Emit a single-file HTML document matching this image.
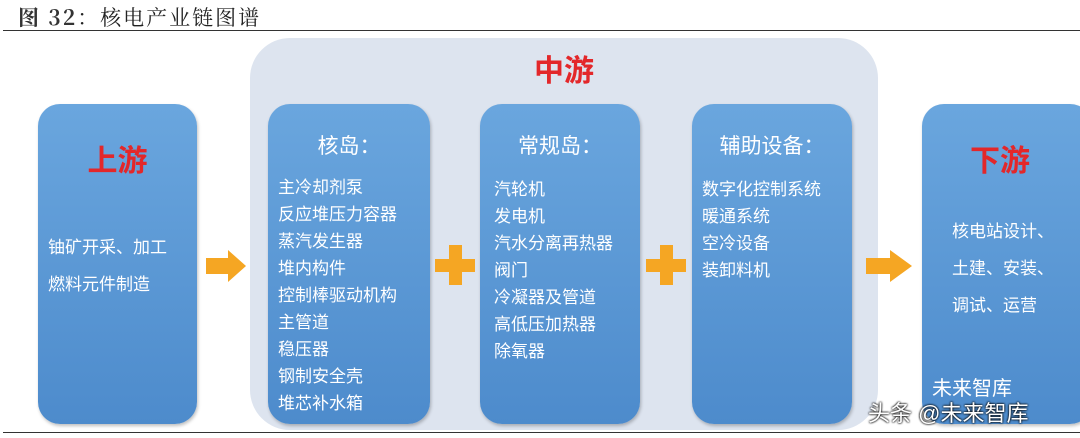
<!DOCTYPE html>
<html><head><meta charset="utf-8"><style>
body{margin:0;width:1080px;height:438px;background:#fff;position:relative;overflow:hidden;font-family:"Liberation Sans","Noto Sans CJK SC",sans-serif}
.a{position:absolute}
.box{position:absolute;border-radius:22px;background:linear-gradient(#6aa6de,#4d8bcc);color:#fff;box-shadow:1px 2px 3px rgba(0,0,0,.25)}
.t{position:absolute;color:#fff;font-size:17px;line-height:27px}
.h{position:absolute;color:#fff;font-size:21px;width:100%;text-align:center}
.red{color:#e3272a;font-size:30px;font-weight:bold;position:absolute;width:100%;text-align:center}
</style></head><body>
<div class="a" style="left:18px;top:2px;font-size:21px;color:#222;font-family:'Noto Serif CJK SC','Liberation Serif',serif;letter-spacing:2px"><span style="font-weight:bold;color:#333">图 32</span>：核电产业链图谱</div>
<div class="a" style="left:3px;top:30px;width:1077px;height:1px;background:#333"></div>
<div class="a" style="left:3px;top:432px;width:1077px;height:1px;background:#333"></div>
<div class="a" style="left:250px;top:38px;width:628px;height:392px;border-radius:40px;background:#dde4ef"></div>
<div class="red" style="left:250px;width:628px;top:46px;">中游</div>

<div class="box" style="left:38px;top:104px;width:159px;height:320px">
<div class="red" style="top:32px">上游</div>
<div class="t" style="left:10px;top:125px;line-height:37px">铀矿开采、加工<br>燃料元件制造</div></div>

<div class="box" style="left:268px;top:104px;width:162px;height:320px">
<div class="h" style="top:26px">核岛：</div>
<div class="t" style="left:10px;top:70px">主冷却剂泵<br>反应堆压力容器<br>蒸汽发生器<br>堆内构件<br>控制棒驱动机构<br>主管道<br>稳压器<br>钢制安全壳<br>堆芯补水箱</div></div>

<div class="box" style="left:480px;top:104px;width:160px;height:320px">
<div class="h" style="top:26px">常规岛：</div>
<div class="t" style="left:14px;top:72px">汽轮机<br>发电机<br>汽水分离再热器<br>阀门<br>冷凝器及管道<br>高低压加热器<br>除氧器</div></div>

<div class="box" style="left:692px;top:104px;width:160px;height:320px">
<div class="h" style="top:26px">辅助设备：</div>
<div class="t" style="left:10px;top:72px">数字化控制系统<br>暖通系统<br>空冷设备<br>装卸料机</div></div>

<div class="box" style="left:922px;top:104px;width:170px;height:320px">
<div class="red" style="top:32px;width:156px">下游</div>
<div class="t" style="left:30px;top:109px;line-height:37px">核电站设计、<br>土建、安装、<br>调试、运营</div></div>

<svg class="a" style="left:0;top:0" width="1080" height="438">
<polygon points="206,258 228,258 228,250 246,266 228,282 228,274 206,274" fill="#f5a623"/>
<polygon points="866,258 890,258 890,250 912,266 890,282 890,274 866,274" fill="#f5a623"/>
<rect x="435" y="259" width="40" height="13" fill="#f5a623"/><rect x="449" y="245" width="13" height="40" fill="#f5a623"/>
<rect x="646" y="259" width="40" height="13" fill="#f5a623"/><rect x="660" y="245" width="13" height="40" fill="#f5a623"/>
</svg>
<div class="a" style="left:932px;top:372px;font-size:20px;color:#fff">未来智库</div>
<div class="a" style="left:868px;top:396px;font-size:22px;color:#fff;text-shadow:0 0 2px #000,0 0 2px #000">头条 @未来智库</div>
</body></html>
